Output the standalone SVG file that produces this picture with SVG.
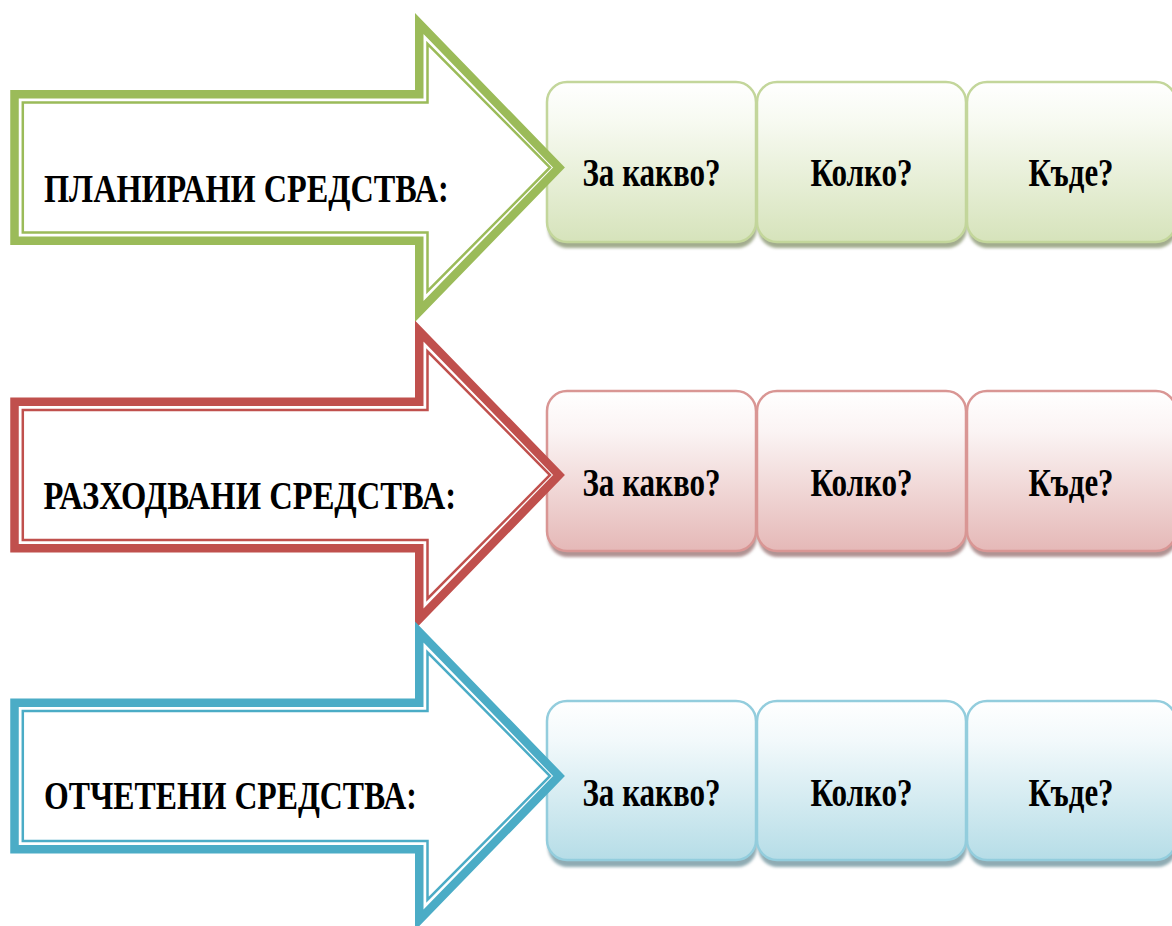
<svg xmlns="http://www.w3.org/2000/svg" width="1172" height="926" viewBox="0 0 1172 926">
<defs>
<linearGradient id="gG" x1="0" y1="0" x2="0" y2="1">
<stop offset="0" stop-color="#ffffff"/><stop offset="0.25" stop-color="#f7faf1"/><stop offset="1" stop-color="#d6e3bb"/>
</linearGradient>
<linearGradient id="gR" x1="0" y1="0" x2="0" y2="1">
<stop offset="0" stop-color="#ffffff"/><stop offset="0.25" stop-color="#fbf4f4"/><stop offset="1" stop-color="#e5b8b7"/>
</linearGradient>
<linearGradient id="gB" x1="0" y1="0" x2="0" y2="1">
<stop offset="0" stop-color="#ffffff"/><stop offset="0.25" stop-color="#f2f9fb"/><stop offset="1" stop-color="#b6dde7"/>
</linearGradient>
<filter id="blur" x="-5%" y="-5%" width="110%" height="115%"><feGaussianBlur stdDeviation="1.5"/></filter>
<polygon id="outer" points="14.5,-73.25 419.25,-73.25 419.25,-144 559,0 419.25,144 419.25,73.25 14.5,73.25"/>
<polygon id="inner" points="22.8,-65 427.5,-65 427.5,-123.75 550,0 427.5,123.75 427.5,65 22.8,65"/>
</defs>
<style>
text{font-family:"Liberation Serif","Times New Roman",serif;font-weight:700;font-size:40px;fill:#000}
.lbl{text-anchor:middle}
.thick{fill:#fff;stroke-width:8.5;stroke-linejoin:miter;stroke-miterlimit:6}
.thin{fill:none;stroke-width:2.5;stroke-linejoin:miter;stroke-miterlimit:6}
.box{stroke-width:2.5}
.sh{filter:url(#blur)}
</style>

<g id="row-planned">
<g id="p-what"><rect class="sh" x="548" y="88" width="209" height="160" rx="20" fill="#a2ac8e"/><rect class="box" x="547" y="82" width="209" height="160" rx="20" fill="url(#gG)" stroke="#c3d69b"/><text class="lbl" transform="translate(651.5,186) scale(0.78,1)" textLength="177" lengthAdjust="spacingAndGlyphs">За какво?</text></g>
<g id="p-howmuch"><rect class="sh" x="758" y="88" width="209" height="160" rx="20" fill="#a2ac8e"/><rect class="box" x="757" y="82" width="209" height="160" rx="20" fill="url(#gG)" stroke="#c3d69b"/><text class="lbl" transform="translate(861.5,186) scale(0.78,1)" textLength="131" lengthAdjust="spacingAndGlyphs">Колко?</text></g>
<g id="p-where"><rect class="sh" x="968" y="88" width="209" height="160" rx="20" fill="#a2ac8e"/><rect class="box" x="967" y="82" width="209" height="160" rx="20" fill="url(#gG)" stroke="#c3d69b"/><text class="lbl" transform="translate(1071,186) scale(0.78,1)" textLength="109" lengthAdjust="spacingAndGlyphs">Къде?</text></g>
</g>

<g id="row-spent">
<g id="s-what"><rect class="sh" x="548" y="397" width="209" height="160" rx="20" fill="#b09393"/><rect class="box" x="547" y="391" width="209" height="160" rx="20" fill="url(#gR)" stroke="#d99694"/><text class="lbl" transform="translate(651.5,496) scale(0.78,1)" textLength="177" lengthAdjust="spacingAndGlyphs">За какво?</text></g>
<g id="s-howmuch"><rect class="sh" x="758" y="397" width="209" height="160" rx="20" fill="#b09393"/><rect class="box" x="757" y="391" width="209" height="160" rx="20" fill="url(#gR)" stroke="#d99694"/><text class="lbl" transform="translate(861.5,496) scale(0.78,1)" textLength="131" lengthAdjust="spacingAndGlyphs">Колко?</text></g>
<g id="s-where"><rect class="sh" x="968" y="397" width="209" height="160" rx="20" fill="#b09393"/><rect class="box" x="967" y="391" width="209" height="160" rx="20" fill="url(#gR)" stroke="#d99694"/><text class="lbl" transform="translate(1071,496) scale(0.78,1)" textLength="109" lengthAdjust="spacingAndGlyphs">Къде?</text></g>
</g>

<g id="row-reported">
<g id="r-what"><rect class="sh" x="548" y="707" width="209" height="160" rx="20" fill="#8fabb3"/><rect class="box" x="547" y="701" width="209" height="159" rx="20" fill="url(#gB)" stroke="#93cddd"/><text class="lbl" transform="translate(651.5,806) scale(0.78,1)" textLength="177" lengthAdjust="spacingAndGlyphs">За какво?</text></g>
<g id="r-howmuch"><rect class="sh" x="758" y="707" width="209" height="160" rx="20" fill="#8fabb3"/><rect class="box" x="757" y="701" width="209" height="159" rx="20" fill="url(#gB)" stroke="#93cddd"/><text class="lbl" transform="translate(861.5,806) scale(0.78,1)" textLength="131" lengthAdjust="spacingAndGlyphs">Колко?</text></g>
<g id="r-where"><rect class="sh" x="968" y="707" width="209" height="160" rx="20" fill="#8fabb3"/><rect class="box" x="967" y="701" width="209" height="159" rx="20" fill="url(#gB)" stroke="#93cddd"/><text class="lbl" transform="translate(1071,806) scale(0.78,1)" textLength="109" lengthAdjust="spacingAndGlyphs">Къде?</text></g>
</g>

<g id="arrow-planned">
<g transform="translate(0,167.5)"><use href="#outer" class="thick" stroke="#9bbb59"/><use href="#inner" class="thin" stroke="#9bbb59"/></g>
<text transform="translate(44,201.5) scale(0.78,1)" textLength="519" lengthAdjust="spacingAndGlyphs">ПЛАНИРАНИ СРЕДСТВА:</text>
</g>
<g id="arrow-spent">
<g transform="translate(0,475)"><use href="#outer" class="thick" stroke="#c0504d"/><use href="#inner" class="thin" stroke="#c0504d"/></g>
<text transform="translate(43.5,509.3) scale(0.78,1)" textLength="529" lengthAdjust="spacingAndGlyphs">РАЗХОДВАНИ СРЕДСТВА:</text>
</g>
<g id="arrow-reported">
<g transform="translate(0,776)"><use href="#outer" class="thick" stroke="#4bacc6"/><use href="#inner" class="thin" stroke="#4bacc6"/></g>
<text transform="translate(44,809.3) scale(0.78,1)" textLength="478" lengthAdjust="spacingAndGlyphs">ОТЧЕТЕНИ СРЕДСТВА:</text>
</g>

<g id="connectors"></g>
</svg>
